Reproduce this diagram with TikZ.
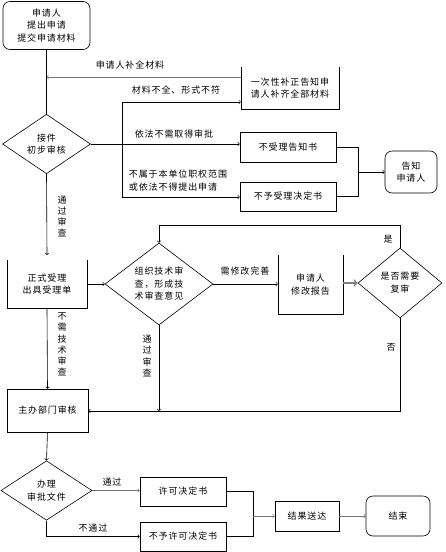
\documentclass[tikz,border=0pt]{standalone}
\usepackage{fontspec}
\newfontfamily\cjk[LetterSpace=10]{Noto Sans CJK SC}
\usetikzlibrary{shapes.geometric}
\tikzset{
  txt/.style={font=\cjk\fontsize{9}{12.5}\selectfont, align=center, inner sep=0pt},
  vtxt/.style={font=\cjk\fontsize{9}{11.2}\selectfont, align=center, inner sep=0pt},
  box/.style={txt, draw, line width=0.6pt},
  rbox/.style={box, rounded corners=7pt},
  obox/.style={txt},
  dia/.style={txt, draw, line width=0.6pt, shape=diamond},
  ln/.style={line width=0.6pt},
  arr/.style={ln, ->, >=to},
  garr/.style={arr, draw=black!55},
  lbl/.style={txt}
}
\begin{document}
\begin{tikzpicture}[x=1pt,y=-1pt]
\useasboundingbox (0,0) rectangle (445,552);
% nodes
\node[rbox, minimum width=87pt, minimum height=48pt] (start) at (46.5,25.5) {申请人\\提出申请\\提交申请材料};
\node[dia, minimum width=88pt, minimum height=58pt] (d1) at (46.5,144) {接件\\初步审核};
\node[obox, minimum width=98pt, minimum height=42pt] (n1) at (290,88) {一次性补正告知申\\请人补齐全部材料};
\draw[ln] (n1.north west) -- (n1.south west) -- (n1.south east) -- (n1.north east);
\node[box, minimum width=96pt, minimum height=30pt] (b1) at (288,147) {不受理告知书};
\node[box, minimum width=96pt, minimum height=29pt] (b2) at (288,196.5) {不予受理决定书};
\node[rbox, minimum width=52pt, minimum height=42pt] (tell) at (411,172) {告知\\申请人};
\node[obox, minimum width=80pt, minimum height=48pt] (acc) at (47,284) {正式受理\\出具受理单};
\draw[ln] (acc.north west) -- (acc.south west) -- (acc.south east) -- (acc.north east);
\node[dia, minimum width=108pt, minimum height=78pt] (d2) at (159,284) {组织技术审\\查，形成技\\术审查意见};
\node[obox, minimum width=65pt, minimum height=59pt] (mod) at (310.5,284.5) {申请人\\修改报告};
\draw[ln] (mod.north west) -- (mod.south west) -- (mod.south east) -- (mod.north east);
\node[dia, minimum width=84pt, minimum height=70pt] (d3) at (400,283) {是否需要\\复审};
\node[box, minimum width=81pt, minimum height=43pt] (dept) at (47.5,410.5) {主办部门审核};
\node[dia, minimum width=91pt, minimum height=55pt] (d4) at (46.5,490.5) {办理\\审批文件};
\node[box, minimum width=86pt, minimum height=29pt] (permit) at (183,491.5) {许可决定书};
\node[box, minimum width=86pt, minimum height=29pt] (deny) at (183,536.5) {不予许可决定书};
\node[box, minimum width=64pt, minimum height=30pt] (deliv) at (307,516) {结果送达};
\node[rbox, minimum width=64pt, minimum height=40pt] (end) at (398,516) {结束};
% coordinates
\coordinate (c77) at (46.5,77);
\coordinate (jt) at (122,102);
\coordinate (jb) at (122,197);
\coordinate (m1) at (358,147);
\coordinate (m2) at (358,196.5);
\coordinate (m3) at (358,172);
\coordinate (acctop) at (47,255);
\coordinate (loopR) at (400,225);
\coordinate (loopL) at (159,225);
\coordinate (noR) at (400,411);
\coordinate (d2b) at (159,411);
\coordinate (k1) at (253,491.5);
\coordinate (k2) at (253,536.5);
\coordinate (k3) at (253,516);
% connectors
\draw[ln] (start.south) -- (d1.north);
\draw[garr] (n1.west |- c77) -- (c77);
\draw[arr] (jb) -- (jt) -- (n1.west |- jt);
\draw[arr] (jt) -- (jb) -- (b2.west |- jb);
\draw[arr] (d1.east) -- (b1.west |- d1.east);
\draw[ln] (b1.east) -- (m1) -- (m2) -- (b2.east);
\draw[arr] (m3) -- (tell.west);
\draw[arr] (d1.south) -- (acctop);
\draw[arr] (acc.east) -- (d2.west);
\draw[arr] (d2.east) -- (mod.west |- d2.east);
\draw[->, >=to, line width=1.6pt, draw=black!50] (mod.east |- d3.west) -- (d3.west);
\draw[arr] (d3.north) -- (loopR) -- (loopL) -- (d2.north);
\draw[arr] (d3.south) -- (noR) -- (dept.east |- noR);
\draw[arr] (d2.south) -- (d2b);
\draw[arr] (acc.south) -- (dept.north);
\draw[arr] (dept.south) -- (d4.north);
\draw[garr] (d4.east) -- (permit.west |- d4.east);
\draw[arr] (d4.south) |- (deny.west);
\draw[ln] (permit.east) -- (k1) -- (k2) -- (deny.east);
\draw[garr] (k3) -- (deliv.west);
\draw[garr] (deliv.east) -- (end.west);
% labels
\node[lbl] (l1) at (130,65) {申请人补全材料};
\node[lbl] (l2) at (176,90) {材料不全、形式不符};
\node[lbl] (l3) at (174,134) {依法不需取得审批};
\node[lbl, align=left] (l4) at (178,180.5) {不属于本单位职权范围\\或依法不得提出申请};
\node[vtxt] (l5) at (62,216.5) {通\\过\\审\\查};
\node[lbl] (l6) at (245,271) {需修改完善};
\node[lbl] (l7) at (388,239) {是};
\node[lbl] (l8) at (391,347) {否};
\node[vtxt] (l9) at (147,356) {通\\过\\审\\查};
\node[vtxt] (l10) at (62,344.5) {不\\需\\技\\术\\审\\查};
\node[lbl] (l11) at (112,482) {通过};
\node[lbl] (l12) at (93,528) {不通过};
\end{tikzpicture}
\end{document}
